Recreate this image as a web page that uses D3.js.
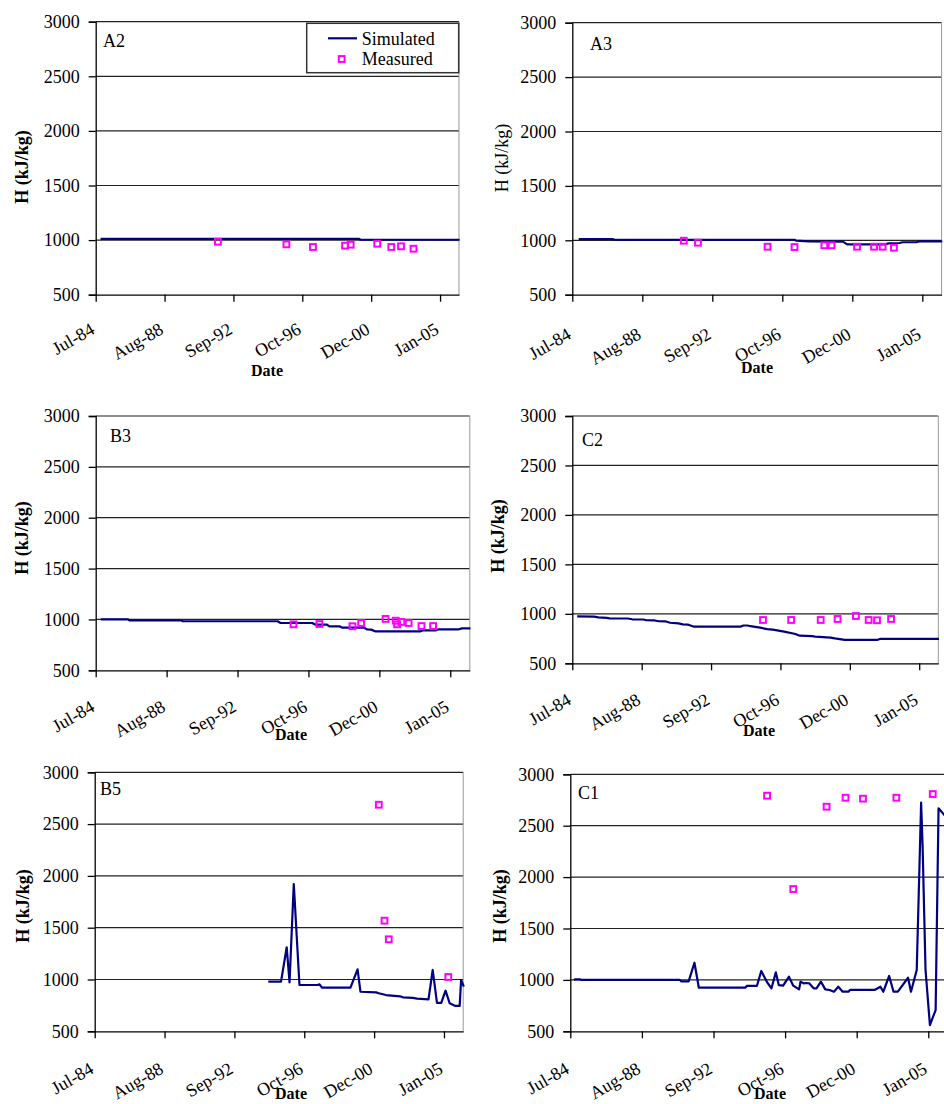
<!DOCTYPE html>
<html>
<head>
<meta charset="utf-8">
<title>Enthalpy per well</title>
<script src="https://d3js.org/d3.v7.min.js"></script>
<style>
  body { margin: 0; background: #fff; }
  svg text { font-family: "Liberation Serif", "Times New Roman", serif; fill: #000; }
</style>
</head>
<body>
<div id="chart"></div>
<script>

// x axis: Excel date axis, major unit 1500 days
const tickDates = ["1984-07-01", "1988-08-09", "1992-09-17", "1996-10-26", "2000-12-04", "2005-01-12"];
const tickLabels = ["Jul-84", "Aug-88", "Sep-92", "Oct-96", "Dec-00", "Jan-05"];
const xDomain = ["1984-07-01", "2006-03-01"];
const yTicks = [500, 1000, 1500, 2000, 2500, 3000];
const wells = ["A2", "A3", "B3", "C2", "B5", "C1"];

// simulated (line) and measured (squares), [month, H kJ/kg]
const simA2 = [["1984-10", 1012], ["2000-03", 1012], ["2000-04", 1003], ["2006-03", 1003]];
const measA2 = [["1991-10", 985], ["1995-11", 961], ["1997-06", 937], ["1999-05", 949], ["1999-09", 958],
  ["2001-04", 967], ["2002-02", 937], ["2002-09", 943], ["2003-06", 921]];

const simA3 = [["1984-11", 1012], ["1986-11", 1012], ["1986-12", 1005], ["1997-07", 1005], ["1997-08", 997],
  ["1998-05", 990], ["2000-05", 988], ["2000-08", 963], ["2002-11", 963], ["2003-01", 972],
  ["2003-09", 975], ["2003-11", 982], ["2004-09", 984], ["2004-11", 990], ["2006-03", 990]];
const measA3 = [["1991-01", 996], ["1991-11", 978], ["1995-12", 941], ["1997-07", 938], ["1999-04", 954],
  ["1999-09", 954], ["2001-03", 941], ["2002-03", 941], ["2002-09", 941], ["2003-05", 932]];

const simB3 = [["1984-10", 1001], ["1986-05", 1001], ["1986-06", 991], ["1989-06", 991], ["1989-07", 982],
  ["1995-01", 982], ["1995-03", 965], ["1997-01", 965], ["1997-03", 950], ["1997-11", 950],
  ["1998-01", 932], ["1998-08", 932], ["1998-10", 919], ["2000-01", 919], ["2000-03", 903],
  ["2000-06", 900], ["2000-09", 882], ["2003-04", 882], ["2003-06", 893], ["2004-03", 893],
  ["2004-05", 903], ["2005-07", 903], ["2005-09", 912], ["2006-03", 912]];
const measB3 = [["1995-12", 952], ["1997-06", 955], ["1999-05", 933], ["1999-11", 965], ["2001-04", 1005],
  ["2001-11", 988], ["2001-12", 952], ["2002-03", 975], ["2002-08", 965], ["2003-05", 935], ["2004-01", 935]];

const simC2 = [["1984-10", 975], ["1985-10", 972], ["1986-01", 965], ["1986-07", 960], ["1986-09", 955],
  ["1987-10", 953], ["1988-01", 945], ["1988-09", 943], ["1988-11", 935], ["1989-05", 933],
  ["1989-08", 925], ["1990-01", 923], ["1990-04", 910], ["1990-10", 904], ["1991-01", 894],
  ["1991-05", 890], ["1991-09", 870], ["1994-06", 870], ["1994-08", 882], ["1994-11", 882],
  ["1995-01", 875], ["1995-08", 860], ["1996-01", 846], ["1996-05", 840], ["1997-01", 820],
  ["1997-09", 796], ["1997-12", 779], ["1998-09", 775], ["1998-11", 769], ["1999-10", 760],
  ["2000-01", 752], ["2000-08", 736], ["2002-07", 736], ["2002-09", 746], ["2006-03", 746]];
const measC2 = [["1995-10", 938], ["1997-06", 938], ["1999-03", 938], ["2000-03", 948], ["2001-04", 978],
  ["2002-01", 938], ["2002-07", 935], ["2003-05", 948]];

const simB5 = [["1994-09", 979], ["1995-06", 979], ["1995-10", 1311], ["1995-12", 973], ["1996-03", 1922],
  ["1996-07", 947], ["1997-08", 947], ["1997-09", 954], ["1997-11", 921], ["1999-07", 921],
  ["1999-12", 1098], ["2000-02", 882], ["2001-01", 876], ["2001-03", 867], ["2001-08", 850],
  ["2002-06", 838], ["2002-08", 828], ["2003-03", 822], ["2003-06", 815], ["2004-02", 808],
  ["2004-05", 1092], ["2004-08", 775], ["2004-11", 775], ["2005-02", 892], ["2005-05", 770],
  ["2005-09", 745], ["2005-12", 745], ["2006-01", 995], ["2006-03", 931]];
const measB5 = [["2001-03", 2687], ["2001-07", 1568], ["2001-10", 1388], ["2005-04", 1024]];

const simC1 = [["1984-09", 1000], ["1984-10", 1006], ["1985-01", 1006], ["1985-02", 1000], ["1990-10", 1000],
  ["1990-11", 985], ["1991-04", 985], ["1991-08", 1167], ["1991-11", 924], ["1994-07", 924],
  ["1994-08", 941], ["1995-03", 941], ["1995-06", 1087], ["1995-10", 977], ["1996-01", 918],
  ["1996-04", 1074], ["1996-06", 950], ["1996-09", 944], ["1997-01", 1031], ["1997-04", 944],
  ["1997-08", 908], ["1997-09", 983], ["1997-11", 967], ["1998-01", 970], ["1998-03", 967],
  ["1998-06", 918], ["1998-08", 918], ["1998-11", 983], ["1999-02", 908], ["1999-05", 902],
  ["1999-08", 885], ["1999-11", 934], ["2000-02", 885], ["2000-06", 885], ["2000-07", 902],
  ["2001-12", 902], ["2002-04", 934], ["2002-06", 885], ["2002-10", 1038], ["2003-01", 885],
  ["2003-04", 885], ["2003-11", 1021], ["2004-01", 885], ["2004-05", 1096], ["2004-08", 2724],
  ["2004-09", 2300], ["2004-11", 1100], ["2005-02", 561], ["2005-06", 707], ["2005-08", 2669],
  ["2005-12", 2604], ["2006-03", 2560]];
const measC1 = [["1995-10", 2792], ["1997-04", 1884], ["1999-03", 2685], ["2000-04", 2772],
  ["2001-04", 2763], ["2003-03", 2772], ["2005-04", 2808]];

const simulated = [simA2, simA3, simB3, simC2, simB5, simC1];
const measured = [measA2, measA3, measB3, measC2, measB5, measC1];

// where each small chart sits on the page
const layout = [
  {left: 95.7, top: 21.7, right: 459, bottom: 294.7, labOff: 38, tx: 21.7, ty: 167, bold: true, dx: 267, dy: 376, nx: 103, ny: 47},
  {left: 572.3, top: 22.7, right: 941.6, bottom: 294.7, labOff: 43, tx: 501.5, ty: 158, bold: false, dx: 757, dy: 373, nx: 590, ny: 50},
  {left: 95.7, top: 416, right: 469.8, bottom: 670.3, labOff: 40, tx: 21.5, ty: 538, bold: true, dx: 291, dy: 740, nx: 110, ny: 442},
  {left: 572.3, top: 416, right: 938.3, bottom: 663.3, labOff: 40, tx: 497.5, ty: 536, bold: true, dx: 759, dy: 736, nx: 582, ny: 446},
  {left: 94.7, top: 772.3, right: 463.2, bottom: 1031.3, labOff: 41, tx: 23, ty: 906, bold: true, dx: 291, dy: 1099, nx: 100, ny: 795},
  {left: 570.3, top: 774.3, right: 948, bottom: 1031.3, labOff: 41, tx: 500, ty: 906, bold: true, dx: 770, dy: 1099, nx: 578, ny: 799}
];

const serif = "Liberation Serif, Times New Roman, serif";
const parseDay = d3.utcParse("%Y-%m-%d");
const toDate = s => parseDay(s.length === 7 ? s + "-15" : s);

const svg = d3.select("#chart")
  .append("svg")
  .attr("width", 944)
  .attr("height", 1104)
  .attr("font-family", serif);

wells.forEach(function(name, i) {
  let p = layout[i];
  let x = d3.scaleUtc()
    .domain(xDomain.map(toDate))
    .range([p.left, p.right]);
  let y = d3.scaleLinear()
    .domain([500, 3000])
    .range([p.bottom, p.top]);

  let g = svg.append("g").attr("font-family", serif);

  // horizontal gridlines
  g.selectAll(".grid")
    .data(yTicks.slice(1))
    .enter()
    .append("line")
    .attr("x1", p.left).attr("x2", p.right)
    .attr("y1", d => y(d)).attr("y2", d => y(d))
    .attr("stroke", "#222")
    .attr("stroke-width", 1.2);

  // light right border
  g.append("line")
    .attr("x1", p.right).attr("x2", p.right)
    .attr("y1", p.top).attr("y2", p.bottom)
    .attr("stroke", "#999")
    .attr("stroke-width", 1);

  let yAxis = g.append("g")
    .attr("transform", "translate(" + p.left + ",0)")
    .call(d3.axisLeft(y).tickValues(yTicks).tickFormat(d3.format("d")).tickSize(7).tickPadding(9));
  yAxis.attr("font-family", serif).attr("font-size", 18);
  yAxis.select(".domain").attr("stroke", "#000").attr("stroke-width", 1.3);
  yAxis.selectAll(".tick line").attr("stroke", "#000").attr("stroke-width", 1.3);
  yAxis.selectAll("text")
    .attr("font-family", serif)
    .attr("font-size", "18px")
    .attr("fill", "#000");

  let xAxis = g.append("g")
    .attr("transform", "translate(0," + p.bottom + ")")
    .call(d3.axisBottom(x).tickValues(tickDates.map(toDate)).tickSize(7).tickSizeOuter(0).tickFormat(""));
  xAxis.select(".domain").attr("stroke", "#000").attr("stroke-width", 1.3);
  xAxis.selectAll(".tick line").attr("stroke", "#000").attr("stroke-width", 1.3);

  g.selectAll(".xlab")
    .data(tickDates)
    .enter()
    .append("text")
    .attr("transform", d => "translate(" + x(toDate(d)) + "," + (p.bottom + p.labOff) + ") rotate(-30)")
    .attr("text-anchor", "end")
    .attr("font-family", serif)
    .attr("font-size", "18px")
    .text((d, k) => tickLabels[k]);

  // axis titles and well name
  g.append("text")
    .attr("transform", "translate(" + p.tx + "," + p.ty + ") rotate(-90)")
    .attr("text-anchor", "middle")
    .attr("dominant-baseline", "central")
    .attr("font-family", serif)
    .attr("font-size", "18px")
    .attr("font-weight", p.bold ? "bold" : "normal")
    .text("H (kJ/kg)");

  g.append("text")
    .attr("x", p.dx).attr("y", p.dy)
    .attr("text-anchor", "middle")
    .attr("font-family", serif)
    .attr("font-size", "16px")
    .attr("font-weight", "bold")
    .text("Date");

  g.append("text")
    .attr("x", p.nx).attr("y", p.ny)
    .attr("font-family", serif)
    .attr("font-size", "18px")
    .text(name);

  // simulated line
  let line = d3.line()
    .x(d => x(toDate(d[0])))
    .y(d => y(d[1]));

  g.append("path")
    .datum(simulated[i])
    .attr("d", line)
    .attr("fill", "none")
    .attr("stroke", "#000080")
    .attr("stroke-width", 2.2)
    .attr("stroke-linejoin", "round");

  // measured squares
  g.selectAll(".meas")
    .data(measured[i])
    .enter()
    .append("rect")
    .attr("x", d => x(toDate(d[0])) - 2.9)
    .attr("y", d => y(d[1]) - 2.9)
    .attr("width", 5.8)
    .attr("height", 5.8)
    .attr("fill", "none")
    .attr("stroke", "#ff00ff")
    .attr("stroke-width", 2);
});

// legend (first chart only)
let lg = svg.append("g").attr("font-family", serif);
lg.append("rect")
  .attr("x", 306.7).attr("y", 23.3)
  .attr("width", 152).attr("height", 49.4)
  .attr("fill", "#fff")
  .attr("stroke", "#333")
  .attr("stroke-width", 1.5);
lg.append("line")
  .attr("x1", 328).attr("x2", 357)
  .attr("y1", 38.3).attr("y2", 38.3)
  .attr("stroke", "#000080")
  .attr("stroke-width", 2.2);
lg.append("rect")
  .attr("x", 338.8).attr("y", 56.1)
  .attr("width", 5.8).attr("height", 5.8)
  .attr("fill", "none")
  .attr("stroke", "#ff00ff")
  .attr("stroke-width", 2);
lg.append("text")
  .attr("x", 361.7).attr("y", 38.3)
  .attr("dy", "0.35em")
  .attr("font-size", "18px")
  .text("Simulated");
lg.append("text")
  .attr("x", 361.7).attr("y", 59)
  .attr("dy", "0.35em")
  .attr("font-size", "18px")
  .text("Measured");

</script>
</body>
</html>
